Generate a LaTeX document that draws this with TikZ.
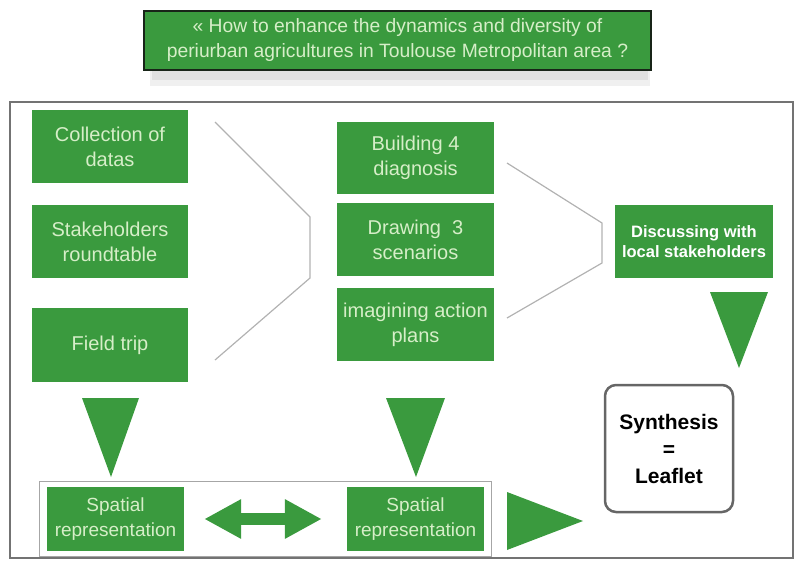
\documentclass[tikz,border=0pt]{standalone}
\usepackage{fontspec}
\setmainfont{Liberation Sans}
\usetikzlibrary{arrows.meta,fit}
\definecolor{boxgreen}{RGB}{58,154,62}
\definecolor{boxtext}{RGB}{214,238,200}
\definecolor{titleline}{RGB}{24,36,24}
\begin{document}
\begin{tikzpicture}[x=1pt, y=-1pt, >=stealth,
    greenbox/.style={fill=boxgreen, text=boxtext, align=center, inner sep=1pt,
      minimum width=156pt, minimum height=73pt, font=\fontsize{20}{25}\selectfont},
    spatialbox/.style={greenbox, minimum width=137pt, minimum height=64pt,
      font=\fontsize{19}{25}\selectfont},
    bracket/.style={draw=black!30, line width=1.2pt},
    bigarrow/.style={fill=boxgreen}]
  \useasboundingbox (0,0) rectangle (798,563);

  % Question
  \fill[black!6] (150,68) rectangle (650,86);
  \fill[black!12] (152,68) rectangle (648,80);
  \node[fill=boxgreen, draw=titleline, line width=2.5pt, text=boxtext, align=center,
    minimum width=507pt, minimum height=59pt, inner sep=1pt,
    font=\fontsize{19.3}{25}\selectfont] (question) at (397.5,40.5)
    {« How to enhance the dynamics and diversity of\\
     periurban agricultures in Toulouse Metropolitan area ?};

  % Cadre
  \draw[black!55, line width=1.5pt] (10,102) rectangle (793,558);

  % Premiere colonne
  \node[greenbox] (datas) at (110,146.5) {Collection of\\datas};
  \node[greenbox] (roundtable) at (110,241.5) {Stakeholders\\roundtable};
  \node[greenbox, minimum height=74pt] (fieldtrip) at (110,345) {Field trip};

  % Deuxieme colonne
  \node[greenbox, minimum width=157pt, minimum height=72pt] (diagnosis) at (415.5,158) {Building 4\\diagnosis};
  \node[greenbox, minimum width=157pt] (scenarios) at (415.5,239.5) {Drawing~~3\\scenarios};
  \node[greenbox, minimum width=157pt] (actionplans) at (415.5,324.5) {imagining action\\plans};

  % Discussion
  \node[greenbox, minimum width=158pt, text=white,
    font=\bfseries\fontsize{16.5}{20}\selectfont] (discuss) at (694,241.5)
    {Discussing with\\local stakeholders};

  % Accolades
  \draw[bracket] (215,122) -- (310,217) -- (310,278) -- (215,360);
  \draw[bracket] (507,163) -- (602,223) -- (602,263) -- (507,318);

  % Representations spatiales
  \node[spatialbox] (spatialA) at (115.5,519) {Spatial\\representation};
  \node[spatialbox] (spatialB) at (415.5,519) {Spatial\\representation};
  \node[draw=black!35, line width=1pt, inner xsep=7pt, inner ysep=5.5pt,
    fit=(spatialA)(spatialB)] (spatialgroup) {};
  \draw[boxgreen, line width=12pt, shorten <=20pt, shorten >=25pt,
    {Triangle[length=37pt,width=37pt]}-{Triangle[length=37pt,width=37pt]}]
    (spatialA.east) -- (spatialB.west);

  % Synthese
  \node[draw=black!60, line width=2.5pt, rounded corners=11pt, align=center,
    minimum width=128pt, minimum height=127pt, inner sep=1pt,
    font=\bfseries\fontsize{21}{27}\selectfont] (leaflet) at (669,448.5)
    {Synthesis\\=\\Leaflet};

  % Fleches
  \fill[bigarrow] (82,398) -- (139,398) -- (111,477) -- cycle;
  \fill[bigarrow] (386,398) -- (445,398) -- (416,477) -- cycle;
  \fill[bigarrow] (710,292) -- (768,292) -- (739,368) -- cycle;
  \fill[bigarrow] (507,492) -- (583,521) -- (507,550) -- cycle;
\end{tikzpicture}
\end{document}
